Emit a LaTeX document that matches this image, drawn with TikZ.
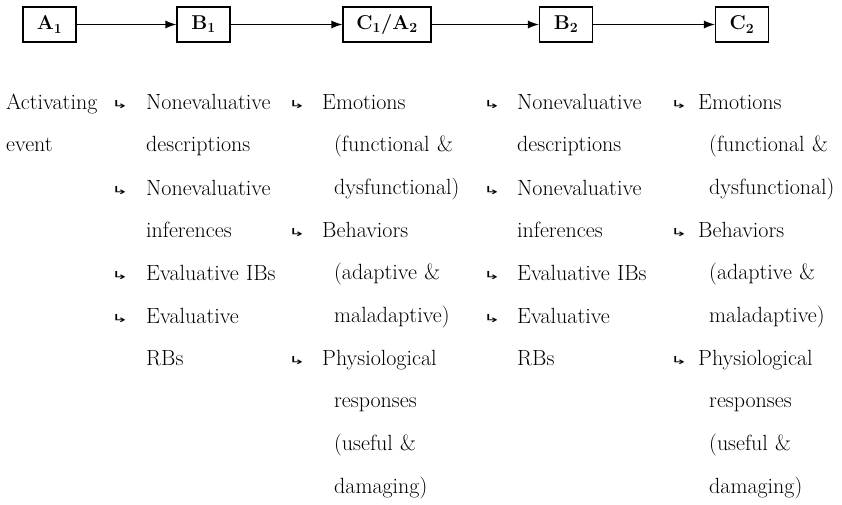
\documentclass[tikz,border=0pt]{standalone}
\usepackage{fontspec}
\newfontfamily\arrowfont{DejaVu Sans}
\usetikzlibrary{arrows.meta}

\begin{document}
\begin{tikzpicture}[x=1pt, y=-1pt, color=black,
  box/.style={draw, line width=1.1pt, minimum width=53pt, minimum height=35pt, inner sep=0pt,
    font=\fontsize{20}{24}\selectfont\bfseries},
  item/.style={anchor=base west, inner sep=0pt, text width=150pt, align=left,
    font=\fontsize{22}{42.7}\selectfont},
  hook/.style={anchor=base west, inner sep=0pt, font=\arrowfont\fontsize{13}{16}\selectfont},
  link/.style={-{Latex[length=11pt,width=8pt]}, line width=1.1pt}]
\useasboundingbox (0,0) rectangle (842,504);

\node[box] at (49.5, 24.5) (A1) {A\textsubscript{1}};
\node[box] at (203.5, 24.5) (B1) {B\textsubscript{1}};
\node[box, minimum width=88pt] at (387, 24.5) (C1) {C\textsubscript{1}/A\textsubscript{2}};
\node[box] at (566, 24.5) (B2) {B\textsubscript{2}};
\node[box] at (742, 24.5) (C2) {C\textsubscript{2}};

\draw[link] (A1) -- (B1);
\draw[link] (B1) -- (C1);
\draw[link] (C1) -- (B2);
\draw[link] (B2) -- (C2);

\node[item] at (6, 109) (act) {Activating\\event};

\node[hook] at (111, 108) (h21) {\scalebox{1.6}[0.85]{↳}};
\node[item] at (146, 109) (desc1) {Nonevaluative\\descriptions};
\node[hook] at (111, 194) (h22) {\scalebox{1.6}[0.85]{↳}};
\node[item] at (146, 195) (inf1) {Nonevaluative\\inferences};
\node[hook] at (111, 279) (h23) {\scalebox{1.6}[0.85]{↳}};
\node[item] at (146, 280) (ib1) {Evaluative IBs};
\node[hook] at (111, 322) (h24) {\scalebox{1.6}[0.85]{↳}};
\node[item] at (146, 323) (rb1) {Evaluative\\RBs};

\node[hook] at (288, 108) (h31) {\scalebox{1.6}[0.85]{↳}};
\node[item] at (322, 109) (emo1) {Emotions\\\hspace*{12pt}(functional \&\\\hspace*{12pt}dysfunctional)};
\node[hook] at (288, 236) (h32) {\scalebox{1.6}[0.85]{↳}};
\node[item] at (322, 237) (beh1) {Behaviors\\\hspace*{12pt}(adaptive \&\\\hspace*{12pt}maladaptive)};
\node[hook] at (288, 364) (h33) {\scalebox{1.6}[0.85]{↳}};
\node[item] at (322, 365) (phy1) {Physiological\\\hspace*{12pt}responses\\\hspace*{12pt}(useful \&\\\hspace*{12pt}damaging)};

\node[hook] at (483, 108) (h41) {\scalebox{1.6}[0.85]{↳}};
\node[item] at (517, 109) (desc2) {Nonevaluative\\descriptions};
\node[hook] at (483, 194) (h42) {\scalebox{1.6}[0.85]{↳}};
\node[item] at (517, 195) (inf2) {Nonevaluative\\inferences};
\node[hook] at (483, 279) (h43) {\scalebox{1.6}[0.85]{↳}};
\node[item] at (517, 280) (ib2) {Evaluative IBs};
\node[hook] at (483, 322) (h44) {\scalebox{1.6}[0.85]{↳}};
\node[item] at (517, 323) (rb2) {Evaluative\\RBs};

\node[hook] at (670, 108) (h51) {\scalebox{1.6}[0.85]{↳}};
\node[item] at (698, 109) (emo2) {Emotions\\\hspace*{11pt}(functional \&\\\hspace*{11pt}dysfunctional)};
\node[hook] at (670, 236) (h52) {\scalebox{1.6}[0.85]{↳}};
\node[item] at (698, 237) (beh2) {Behaviors\\\hspace*{11pt}(adaptive \&\\\hspace*{11pt}maladaptive)};
\node[hook] at (670, 364) (h53) {\scalebox{1.6}[0.85]{↳}};
\node[item] at (698, 365) (phy2) {Physiological\\\hspace*{11pt}responses\\\hspace*{11pt}(useful \&\\\hspace*{11pt}damaging)};
\end{tikzpicture}
\end{document}
